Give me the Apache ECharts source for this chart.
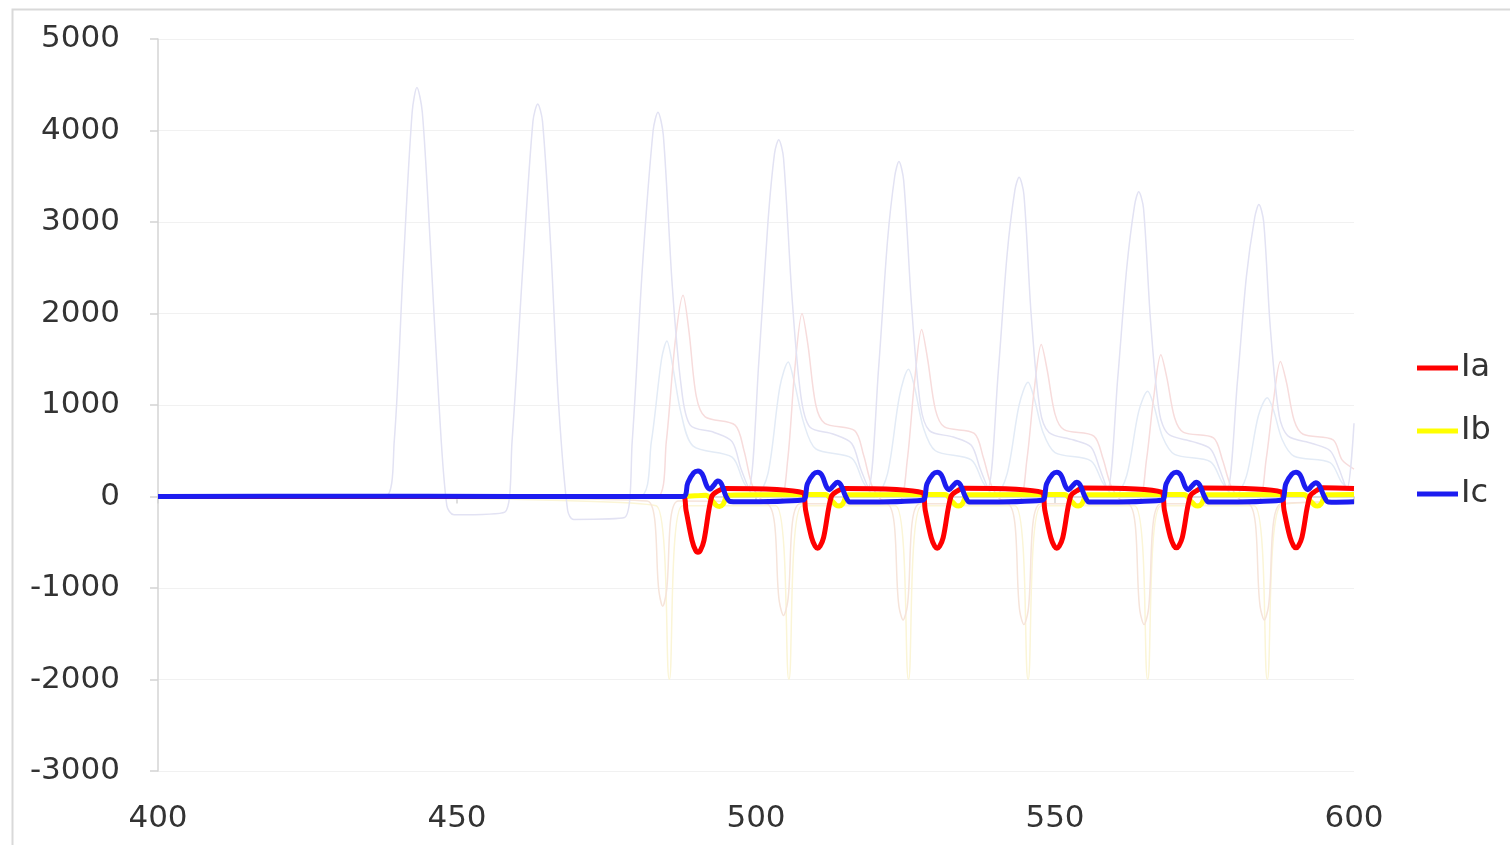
<!DOCTYPE html>
<html>
<head>
<meta charset="utf-8">
<script src="https://cdn.jsdelivr.net/npm/echarts@6/dist/echarts.min.js"></script>
<style>
html,body{margin:0;padding:0;background:#fff;}
#c{width:1510px;height:845px;}
</style>
</head>
<body>
<div id="c"></div>
<script>
// ---- data ----
var xTicks = [400, 450, 500, 550, 600];
var yTicks = [-3000, -2000, -1000, 0, 1000, 2000, 3000, 4000, 5000];
var legendNames = ['Ia', 'Ib', 'Ic'];

var ia = [[400,0],[487.8,0],[488.3,-150],[489.3,-480],[489.9,-590],[490.3,-610],[490.7,-590],[491.3,-480],[492.6,0],[493.6,60],[494.8,88],[507.8,42],
[508.3,-150],[509.3,-450],[509.9,-545],[510.3,-565],[510.7,-545],[511.3,-450],[512.6,0],[513.6,60],[514.8,88],[527.8,42],
[528.3,-150],[529.3,-450],[529.9,-545],[530.3,-565],[530.7,-545],[531.3,-450],[532.6,0],[533.6,60],[534.8,90],[547.8,45],
[548.3,-150],[549.3,-450],[549.9,-545],[550.3,-565],[550.7,-545],[551.3,-450],[552.6,0],[553.6,60],[554.8,92],[567.8,48],
[568.3,-150],[569.3,-445],[569.9,-540],[570.3,-560],[570.7,-540],[571.3,-445],[572.6,0],[573.6,60],[574.8,92],[587.8,50],
[588.3,-150],[589.3,-445],[589.9,-540],[590.3,-560],[590.7,-540],[591.3,-445],[592.6,0],[593.6,60],[594.8,95],[600,88]];

var ib = [[400,0],[487.8,0],[491.6,15],[492.6,-40],[493.4,-100],[493.9,-110],[494.5,-85],[495.4,15],[507.8,22],
[511.6,22],[512.6,-40],[513.4,-95],[513.9,-105],[514.5,-80],[515.4,18],[527.8,22],
[531.6,22],[532.6,-40],[533.4,-95],[533.9,-105],[534.5,-80],[535.4,18],[547.8,22],
[551.6,22],[552.6,-40],[553.4,-95],[553.9,-105],[554.5,-80],[555.4,18],[567.8,22],
[571.6,22],[572.6,-40],[573.4,-95],[573.9,-105],[574.5,-80],[575.4,18],[587.8,22],
[591.6,22],[592.6,-40],[593.4,-95],[593.9,-105],[594.5,-80],[595.4,18],[600,22]];

var ic = [[400,0],[430,4],[460,0],[487.8,0],[488.6,150],[489.6,260],[490.3,280],[491,245],[491.8,110],[492.3,80],[492.9,120],[493.6,170],[494.2,140],[495,0],[495.7,-55],[497,-58],[507.8,-38],
[508.6,140],[509.6,245],[510.3,265],[511,235],[511.8,105],[512.3,75],[512.9,115],[513.6,155],[514.2,125],[515,0],[515.7,-60],[517,-60],[527.8,-40],
[528.6,140],[529.6,245],[530.3,265],[531,235],[531.8,105],[532.3,75],[532.9,115],[533.6,155],[534.2,125],[535,0],[535.7,-60],[537,-60],[547.8,-40],
[548.6,140],[549.6,245],[550.3,265],[551,235],[551.8,105],[552.3,75],[552.9,115],[553.6,155],[554.2,125],[555,0],[555.7,-60],[557,-60],[567.8,-40],
[568.6,140],[569.6,245],[570.3,265],[571,235],[571.8,105],[572.3,75],[572.9,115],[573.6,155],[574.2,125],[575,0],[575.7,-60],[577,-60],[587.8,-40],
[588.6,140],[589.6,245],[590.3,265],[591,235],[591.8,105],[592.3,75],[592.9,115],[593.6,150],[594.2,120],[595,0],[595.7,-60],[597,-62],[600,-58]];

// faint background traces
var ghostA = [[400,0],[438,0],[439.5,600],[441,2500],[442.5,4200],[443.3,4470],[444.2,4200],[445.5,2800],[447,1000],[448.3,-100],[449.5,-200],[458,-170],
[459.2,600],[461,2500],[462.7,4100],[463.5,4290],[464.3,4100],[465.7,2700],[467,1000],[468.5,-150],[469.5,-250],[478,-230],
[479.3,600],[481,2500],[482.8,4000],[483.6,4200],[484.5,3950],[486,2300],[487.5,1200],[489,780],[493,700],[496,600],[497.5,300],[498.8,100],
[500.5,1500],[502,3000],[503.1,3750],[503.8,3900],[504.6,3700],[506,2200],[507.5,1100],[509,760],[513,680],[516,580],[517.5,300],[518.8,100],
[520.5,1400],[522,2800],[523.2,3500],[523.9,3660],[524.7,3450],[526,2100],[527.5,1000],[529,720],[533,650],[536,560],[537.5,300],[538.8,100],
[540.5,1350],[542,2650],[543.3,3350],[544,3490],[544.8,3300],[546,2000],[547.5,950],[549,700],[553,620],[556,540],[557.5,300],[558.8,80],
[560.5,1300],[562,2500],[563.3,3180],[564,3330],[564.8,3150],[566,1900],[567.5,900],[569,680],[573,600],[576,520],[577.5,300],[578.8,80],
[580.5,1250],[582,2400],[583.4,3050],[584.1,3190],[584.9,3000],[586,1850],[587.5,880],[589,660],[593,580],[596,500],[597.5,300],[598.8,80],[600,800]];

var ghostB = [[400,0],[480.5,0],[482.5,600],[484.2,1500],[485.1,1700],[486,1450],[487.5,900],[489.5,550],[496,430],[498,150],[500,0],
[502,250],[504,1200],[505.4,1470],[506.4,1250],[508,800],[510,520],[516,420],[518,150],[520,0],
[522,250],[524,1100],[525.5,1390],[526.5,1200],[528,750],[530,500],[536,400],[538,150],[540,0],
[542,250],[544,1000],[545.5,1250],[546.5,1080],[548,700],[550,480],[556,390],[558,150],[560,0],
[562,230],[564,930],[565.5,1150],[566.5,1000],[568,650],[570,460],[576,380],[578,150],[580,0],
[582,220],[584,880],[585.5,1080],[586.5,950],[588,620],[590,440],[596,370],[598,150],[600,50]];

var ghostC = [[400,0],[483.5,0],[485,600],[486.5,1700],[487.8,2200],[488.8,1800],[490,1100],[491.5,870],[496.5,780],[498,500],[499.5,100],[501.5,-50],[504,-50],
[505.3,400],[506.5,1400],[507.7,2000],[508.7,1650],[510,1000],[511.5,800],[516.5,720],[518,450],[519.5,100],[521.5,-50],[524,-50],
[525.3,400],[526.5,1250],[527.7,1825],[528.7,1500],[530,950],[531.5,760],[536.5,690],[538,430],[539.5,100],[541.5,-50],[544,-50],
[545.3,400],[546.5,1150],[547.7,1660],[548.7,1380],[550,900],[551.5,730],[556.5,660],[558,420],[559.5,100],[561.5,-50],[564,-50],
[565.3,400],[566.5,1080],[567.7,1550],[568.7,1300],[570,860],[571.5,700],[576.5,640],[578,400],[579.5,100],[581.5,-50],[584,-50],
[585.3,400],[586.5,1030],[587.7,1475],[588.7,1250],[590,830],[591.5,680],[596.5,620],[598,400],[600,300]];

var ghostD = [[400,0],[481.8,-50],[483.8,-1050],[484.4,-1200],[485,-1050],[487,-50],[501.8,-80],[503.9,-1150],[504.6,-1300],[505.3,-1150],[507.4,-80],
[521.8,-80],[523.9,-1200],[524.6,-1350],[525.3,-1200],[527.4,-80],[542,-80],[544.1,-1250],[544.8,-1400],[545.5,-1250],[547.6,-80],
[562.1,-80],[564.2,-1250],[564.9,-1400],[565.6,-1250],[567.7,-80],[582.2,-80],[584.3,-1200],[585,-1350],[585.7,-1200],[587.8,-80],[600,-60]];

var ghostE = [[400,0],[483.3,-100],[485.5,-2000],[487.7,-100],[503.3,-100],[505.5,-2000],[507.7,-100],[523.3,-100],[525.5,-2000],[527.7,-100],
[543.3,-100],[545.5,-2000],[547.7,-100],[563.3,-100],[565.5,-2000],[567.7,-100],[583.3,-100],[585.5,-2000],[587.7,-100],[600,-50]];

// ---- chart ----
var chart = echarts.init(document.getElementById('c'), null, {renderer: 'canvas'});
var font = 'DejaVu Sans';
function ghost(name, data, color) {
  return {name: name, type: 'line', data: data, symbol: 'none', smooth: 0.3, silent: true,
    lineStyle: {color: color, width: 1.5}, z: 1, animation: false};
}
function bold(name, data, color) {
  return {name: name, type: 'line', data: data, symbol: 'none', showSymbol: false, smooth: 0.35,
    lineStyle: {color: color, width: 5}, itemStyle: {color: color}, z: 3, animation: false};
}
chart.setOption({
  animation: false,
  backgroundColor: '#ffffff',
  graphic: [{type: 'rect', left: 10, top: 7, shape: {width: 1530, height: 870},
    style: {fill: 'none', stroke: '#d9d9d9', lineWidth: 2}, silent: true}],
  grid: {left: 158, right: 156, top: 39, bottom: 74},
  legend: {
    data: legendNames, orient: 'vertical', left: 1417, top: 352,
    icon: 'rect', itemWidth: 41, itemHeight: 5, itemGap: 31, padding: 0,
    textStyle: {fontFamily: font, fontSize: 32, color: '#333', lineHeight: 30, padding: [0, 0, 0, -2]}
  },
  xAxis: {
    type: 'value', min: xTicks[0], max: xTicks[xTicks.length - 1], interval: 50,
    axisLine: {show: true, lineStyle: {color: '#d4d4d4', width: 1.5}},
    axisTick: {show: true, length: 7, lineStyle: {color: '#d4d4d4', width: 1.5}},
    splitLine: {show: false},
    axisLabel: {fontFamily: font, fontSize: 31, color: '#333', margin: 32, formatter: function (v) { return String(v); }}
  },
  yAxis: {
    type: 'value', min: yTicks[0], max: yTicks[yTicks.length - 1], interval: 1000,
    axisLine: {show: true, lineStyle: {color: '#d4d4d4', width: 1.5}},
    axisTick: {show: true, length: 8, lineStyle: {color: '#d4d4d4', width: 1.5}},
    splitLine: {show: true, lineStyle: {color: '#f1f1f1', width: 1}},
    axisLabel: {fontFamily: font, fontSize: 31, color: '#333', margin: 38, formatter: function (v) { return String(v); }}
  },
  series: [
    ghost('g1', ghostE, '#fbf5d6'),
    ghost('g2', ghostD, '#f6e4da'),
    ghost('g3', ghostB, '#e3ebf6'),
    ghost('g4', ghostC, '#f7dcdc'),
    ghost('g5', ghostA, '#e2e2f3'),
    bold('Ib', ib, '#ffff00'),
    bold('Ia', ia, '#ff0000'),
    bold('Ic', ic, '#1c1cf0')
  ]
});
</script>
</body>
</html>
